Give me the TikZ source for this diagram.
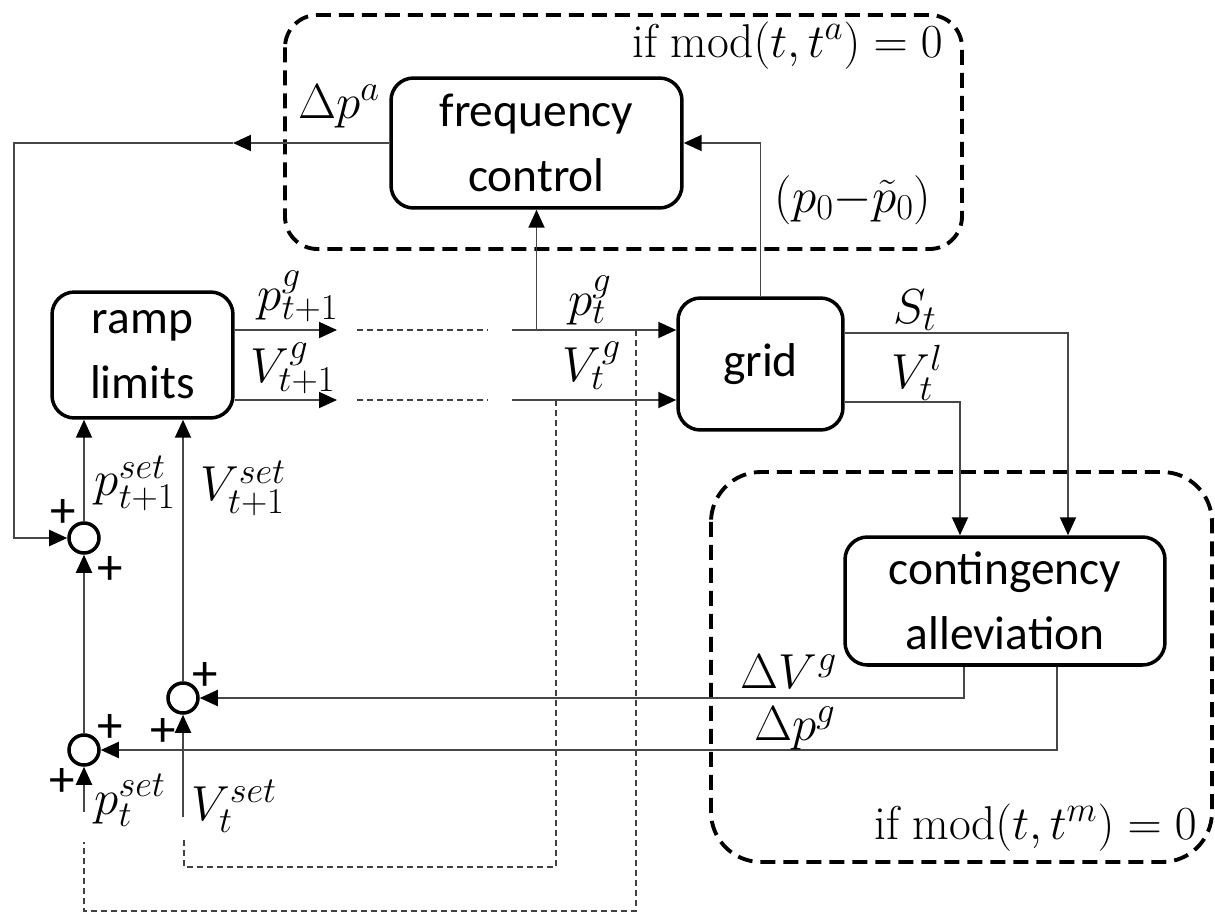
\RequirePackage{fix-cm}
\documentclass[tikz,border=0pt]{standalone}
\usepackage{fontspec}
\newfontfamily\boxfont{Carlito}
\renewcommand\defaultscriptratio{.74}
\usetikzlibrary{arrows.meta}
\begin{document}
\begin{tikzpicture}[x=0.02cm,y=-0.02cm,
  blk/.style={draw, line width=2pt, rounded corners=0.45cm, align=center, inner sep=0pt, font=\boxfont\fontsize{27}{37}\selectfont},
  conn/.style={line width=1.1pt, draw=black!72},
  arr/.style={conn, -{Triangle[length=0.36cm,width=0.32cm,black]}},
  sumc/.style={circle, draw, line width=2pt, minimum size=0.6cm, inner sep=0pt},
  grp/.style={draw, line width=2.2pt, rounded corners=#1, dash pattern=on 0.3cm off 0.16cm},
  fbk/.style={line width=1pt, draw=black!75, dash pattern=on 0.12cm off 0.08cm},
  lbl/.style={inner sep=0pt, font=\fontsize{28}{30}\selectfont},
  cond/.style={inner sep=0pt, font=\fontsize{27}{30}\selectfont},
  pls/.style={inner sep=0pt, font=\boxfont\fontsize{29}{30}\selectfont},
]
\useasboundingbox (0,0) rectangle (1215,913);

% group boxes
\draw[grp=0.65cm] (285,15) rectangle (962,249);
\draw[grp=1cm] (711,472) rectangle (1212,862);
\node[cond, anchor=base east] (condA) at (943,57) {$\mathrm{if}\;\mathrm{mod}(t,t^{a})=0$};
\node[cond, anchor=base east] (condM) at (1197,839) {$\mathrm{if}\;\mathrm{mod}(t,t^{m})=0$};

% blocks
\node[blk, minimum width=5.82cm, minimum height=2.6cm] (fc) at (536.5,143) {frequency\\control};
\node[blk, minimum width=3.62cm, minimum height=2.52cm] (ramp) at (142.5,355) {ramp\\limits};
\node[blk, minimum width=3.3cm, minimum height=2.64cm] (grid) at (760.5,364) {grid};
\node[blk, minimum width=6.4cm, minimum height=2.56cm] (cont) at (1005,601) {contingency\\alleviation};

% summation circles
\node[sumc] (s1) at (84,538) {};
\node[sumc] (s2) at (183,698) {};
\node[sumc] (s3) at (84,750) {};

% helper coordinates
\coordinate (fbA) at (233,143);
\coordinate (fbL) at (14,143);
\coordinate (pA) at (337,330);
\coordinate (pD1) at (357,330);
\coordinate (pD2) at (488,330);
\coordinate (pB) at (512,330);
\coordinate (vA) at (337,400);
\coordinate (vD1) at (357,400);
\coordinate (vD2) at (488,400);
\coordinate (vB) at (512,400);
\coordinate (pF) at (636,330);
\coordinate (pFc) at (636,911);
\coordinate (pFe) at (84,842);
\coordinate (vF) at (556,400);
\coordinate (vFc) at (556,867);
\coordinate (vFe) at (184,838);
\coordinate (pin) at (84,812);
\coordinate (vin) at (183,817);
\coordinate (yS) at (0,333);
\coordinate (yV) at (0,402);
\coordinate (cS) at (1068,0);
\coordinate (cV) at (960,0);
\coordinate (oV) at (964,0);
\coordinate (oP) at (1057,0);

% frequency control output
\draw[arr] (fc.west) -- (fbA);
\draw[arr] (fbA) -- (fbL) |- (s1.west);

% ramp outputs
\draw[arr] (ramp.east |- pA) -- (pA);
\draw[arr] (ramp.east |- vA) -- (vA);
\draw[fbk] (pD1) -- (pD2);
\draw[fbk] (vD1) -- (vD2);
\draw[arr] (pB) -- (grid.west |- pB);
\draw[arr] (vB) -- (grid.west |- vB);
\draw[arr] (fc.south |- pB) -- (fc.south);

% grid to frequency control
\draw[arr] (grid.north) |- (fc.east);

% grid outputs
\draw[arr] (grid.east |- yS) -| (cont.north -| cS);
\draw[arr] (grid.east |- yV) -| (cont.north -| cV);

% contingency outputs
\draw[arr] (cont.south -| oV) |- (s2.east);
\draw[arr] (cont.south -| oP) |- (s3.east);

% summation connections
\draw[arr] (s1.north) -- (s1.north |- ramp.south);
\draw[arr] (s2.north) -- (s2.north |- ramp.south);
\draw[arr] (s3.north) -- (s1.south);
\draw[arr] (pin) -- (s3.south);
\draw[arr] (vin) -- (s2.south);

% dashed feedback
\draw[fbk] (pF) -- (pFc) -| (pFe);
\draw[fbk] (vF) -- (vFc) -| (vFe);

% labels
\node[lbl] (lDpa) at (339,106) {$\Delta p^{a}$};
\node[lbl] (lpp) at (853,200) {$(p_0\mathord{-}\tilde{p}_0)$};
\node[lbl] (lpg1) at (298,296) {$p^{g}_{t+1}$};
\node[lbl] (lvg1) at (293,368) {$V^{g}_{t+1}$};
\node[lbl] (lpg) at (590,300) {$p^{g}_{t}$};
\node[lbl] (lvg) at (592,366) {$V^{g}_{t}$};
\node[lbl] (lSt) at (915,310) {$S_t$};
\node[lbl] (lVl) at (917,373) {$V^{l}_{t}$};
\node[lbl] (lps1) at (135,483) {$p^{set}_{t+1}$};
\node[lbl] (lvs1) at (243,488) {$V^{set}_{t+1}$};
\node[lbl] (lDV) at (789,672) {$\Delta V^{g}$};
\node[lbl] (lDp) at (795,728) {$\Delta p^{g}$};
\node[lbl] (lps) at (130,800) {$p^{set}_{t}$};
\node[lbl] (lvs) at (234,806) {$V^{set}_{t}$};

% plus signs
\node[pls] (pl1) at (63,513) {+};
\node[pls] (pl2) at (110,570) {+};
\node[pls] (pl3) at (205,676) {+};
\node[pls] (pl4) at (163,732) {+};
\node[pls] (pl5) at (110,728) {+};
\node[pls] (pl6) at (62,782) {+};
\end{tikzpicture}
\end{document}
